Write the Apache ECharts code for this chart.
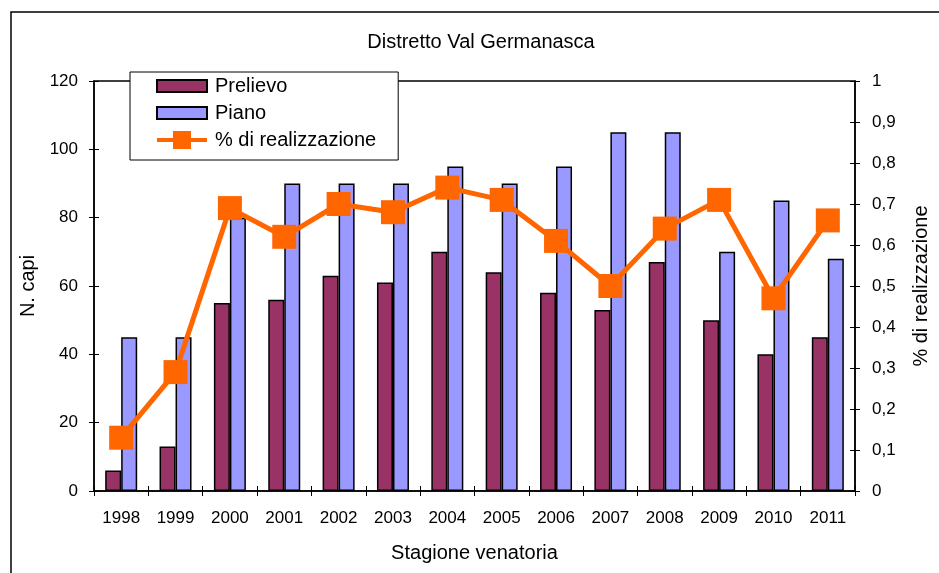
<!DOCTYPE html>
<html>
<head>
<meta charset="utf-8">
<script src="https://cdn.jsdelivr.net/npm/echarts@6/dist/echarts.min.js"></script>
<style>
  html, body { margin: 0; padding: 0; background: #fff; }
  #chart { width: 939px; height: 573px; }
</style>
</head>
<body>
<div id="chart"></div>
<script>
// Stagioni venatorie
const years = ['1998', '1999', '2000', '2001', '2002', '2003', '2004',
               '2005', '2006', '2007', '2008', '2009', '2010', '2011'];
// Capi prelevati
const prelievo = [6, 13, 55, 56, 63, 61, 70, 64, 58, 53, 67, 50, 40, 45];
// Capi previsti dal piano
const piano = [45, 45, 80, 90, 90, 90, 95, 90, 95, 105, 105, 70, 85, 68];
// Quota di realizzazione del piano
const realizzazione = [0.13, 0.29, 0.69, 0.62, 0.70, 0.68, 0.74, 0.71, 0.61, 0.50, 0.64, 0.71, 0.47, 0.66];

const FONT = '"Liberation Sans", Arial, sans-serif';
const chart = echarts.init(document.getElementById('chart'), null, { renderer: 'canvas' });

const axisLine = { show: true, lineStyle: { color: '#000', width: 1.5 } };
const tickStyle = { color: '#000', width: 1 };

// Legend icons: a flat box for the bars, a thick line with a square marker for the line
const barIcon = 'path://M0,0M0,18M0,3H50V15H0Z';
const lineIcon = 'path://M0,7H16V0H34V7H50V11H34V18H16V11H0Z';

chart.setOption({
  backgroundColor: '#fff',
  animation: false,
  title: {
    text: 'Distretto Val Germanasca',
    left: 476,
    textAlign: 'center',
    top: 27,
    textStyle: { fontFamily: FONT, fontSize: 20, fontWeight: 'normal', color: '#000' }
  },
  graphic: [{
    type: 'rect',
    shape: { x: 11, y: 12, width: 960, height: 600 },
    style: { fill: null, stroke: '#000', lineWidth: 1.5 },
    z: -1
  }],
  legend: {
    orient: 'vertical',
    left: 130,
    top: 72,
    padding: [4, 22, 10, 26],
    itemGap: 7,
    itemWidth: 50,
    itemHeight: 18,
    backgroundColor: '#fff',
    borderColor: '#000',
    borderWidth: 1,
    textStyle: { fontFamily: FONT, fontSize: 20, color: '#000', lineHeight: 20, padding: [0, 0, 0, 3] },
    data: [
      { name: 'Prelievo', icon: barIcon },
      { name: 'Piano', icon: barIcon },
      { name: '% di realizzazione', icon: lineIcon, itemStyle: { color: '#FF6600', borderWidth: 0 } }
    ],
    z: 10
  },
  grid: {
    left: 94, right: 79, top: 81, bottom: 82,
    show: true, borderColor: '#000', borderWidth: 1.5, backgroundColor: '#fff'
  },
  xAxis: [{
    type: 'category',
    data: years,
    position: 'bottom',
    axisLine: axisLine,
    axisTick: { show: true, interval: 0, length: 5, lineStyle: tickStyle },
    axisLabel: { fontFamily: FONT, fontSize: 17, color: '#000', margin: 19, interval: 0 },
    name: 'Stagione venatoria',
    nameLocation: 'middle',
    nameGap: 52,
    nameTextStyle: { fontFamily: FONT, fontSize: 20, color: '#000' }
  }, {
    type: 'category',
    data: years,
    position: 'bottom',
    axisLine: { show: false },
    axisTick: { show: true, inside: true, interval: 0, length: 5, lineStyle: tickStyle },
    axisLabel: { show: false }
  }],
  yAxis: [{
    type: 'value',
    position: 'left',
    min: 0, max: 120, interval: 20,
    axisLine: axisLine,
    axisTick: { show: true, length: 5, lineStyle: tickStyle },
    splitLine: { show: false },
    axisLabel: { fontFamily: FONT, fontSize: 17, color: '#000', margin: 16 },
    name: 'N. capi',
    nameLocation: 'middle',
    nameRotate: 90,
    nameGap: 54,
    nameTextStyle: { fontFamily: FONT, fontSize: 20, color: '#000' }
  }, {
    type: 'value',
    position: 'right',
    min: 0, max: 1, interval: 0.1,
    axisLine: axisLine,
    axisTick: { show: true, length: 5, lineStyle: tickStyle },
    splitLine: { show: false },
    axisLabel: {
      fontFamily: FONT, fontSize: 17, color: '#000', margin: 17,
      formatter: v => String(Math.round(v * 10) / 10).replace('.', ',')
    },
    name: '% di realizzazione',
    nameLocation: 'middle',
    nameRotate: 90,
    nameGap: 56,
    nameTextStyle: { fontFamily: FONT, fontSize: 20, color: '#000' }
  }, {
    type: 'value',
    position: 'left',
    min: 0, max: 120, interval: 20,
    axisLine: { show: false },
    axisTick: { show: true, inside: true, length: 5, lineStyle: tickStyle },
    splitLine: { show: false },
    axisLabel: { show: false }
  }, {
    type: 'value',
    position: 'right',
    min: 0, max: 1, interval: 0.1,
    axisLine: { show: false },
    axisTick: { show: true, inside: true, length: 5, lineStyle: tickStyle },
    splitLine: { show: false },
    axisLabel: { show: false }
  }],
  series: [{
    name: 'Prelievo',
    type: 'bar',
    data: prelievo,
    barWidth: 16,
    barGap: '0%',
    itemStyle: { color: '#993366', borderColor: '#000', borderWidth: 1.5 }
  }, {
    name: 'Piano',
    type: 'bar',
    data: piano,
    barWidth: 16,
    barGap: '0%',
    itemStyle: { color: '#9999FF', borderColor: '#000', borderWidth: 1.5 }
  }, {
    name: '% di realizzazione',
    type: 'line',
    yAxisIndex: 1,
    data: realizzazione,
    symbol: 'rect',
    symbolSize: 24,
    lineStyle: { color: '#FF6600', width: 5 },
    itemStyle: { color: '#FF6600' },
    z: 5
  }]
});
</script>
</body>
</html>
